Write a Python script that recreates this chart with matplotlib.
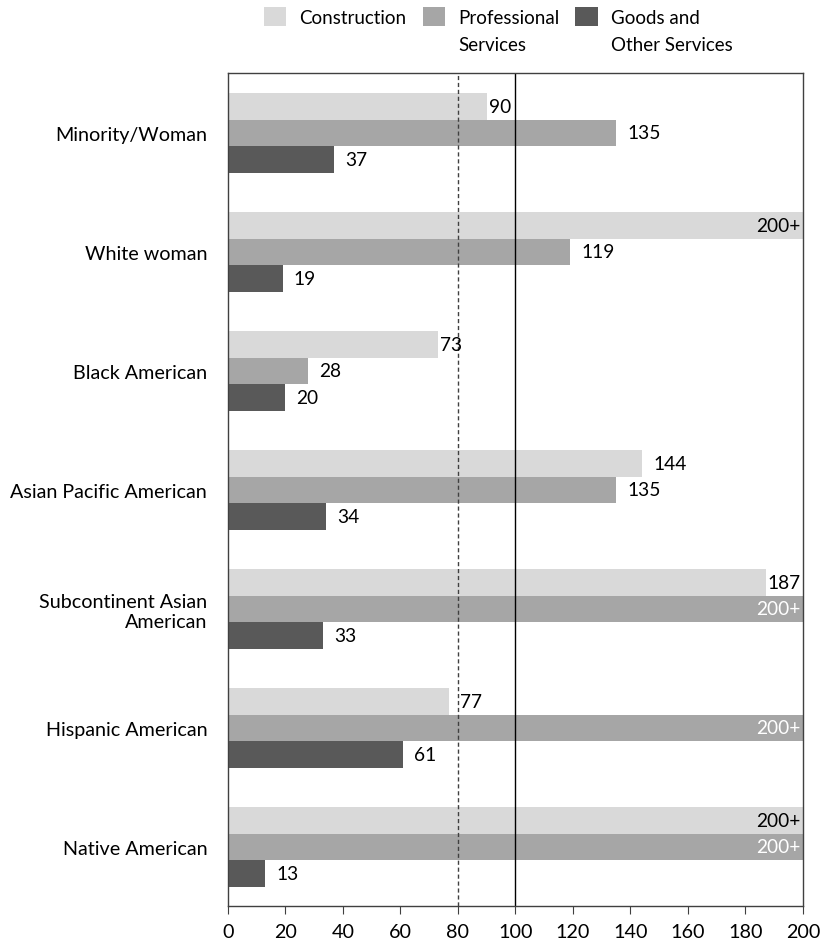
import matplotlib
matplotlib.use("Agg")
import matplotlib.pyplot as plt
import numpy as np
from matplotlib.patches import Patch

plt.rcParams['font.family'] = ['Lato', 'DejaVu Sans']

categories = ["Minority/Woman", "White woman", "Black American", "Asian Pacific American",
              "Subcontinent Asian\nAmerican", "Hispanic American", "Native American"]
series_first = ["Construction", "Professional", "Goods and"]
series_second = ["", "Services", "Other Services"]
construction = [90, "200+", 73, 144, 187, 77, "200+"]
professional = [135, 119, 28, 135, "200+", "200+", "200+"]
goods = [37, 19, 20, 34, 33, 61, 13]
colors = ["#d9d9d9", "#a6a6a6", "#595959"]
cap = 200
xticks = list(range(0, 201, 20))

fig = plt.figure(figsize=(8.29, 9.45), dpi=100)
ax = fig.add_axes([0.275, 0.0397, 0.6936, 0.8815])

n = len(categories)
centers = np.arange(n)
bh = 0.222
series = [construction, professional, goods]
for si, (vals, col) in enumerate(zip(series, colors)):
    ys = centers + (si - 1) * bh
    for y, v in zip(ys, vals):
        capped = isinstance(v, str)
        w = cap if capped else v
        ax.barh(y, w, height=bh, color=col, edgecolor='none')
        if capped:
            ax.annotate(v, (w, y), xytext=(-2, 0), textcoords='offset points',
                        ha='right', va='center', fontsize=13.8,
                        color='black' if si == 0 else 'white')
        else:
            off = 1.5 if (si == 0 and v in (90, 73, 187)) else 8
            ax.annotate(str(v), (w, y), xytext=(off, 0), textcoords='offset points',
                        ha='left', va='center', fontsize=13.8, color='black')

ax.axvline(80, color='#404040', linestyle=(0, (3, 2)), linewidth=1)
ax.axvline(100, color='black', linewidth=1)

ax.set_xlim(0, 200)
ax.set_ylim(n - 0.5, -0.5)
ax.set_yticks(centers)
ax.set_yticklabels(categories, fontsize=14.2)
ax.tick_params(axis='y', length=0, pad=15)
ax.set_xticks(xticks)
ax.set_xticklabels([str(t) for t in xticks], fontsize=14.2)
ax.tick_params(axis='x', length=6, direction='out', color='#404040', pad=6)
for s in ax.spines.values():
    s.set_color('#404040')
    s.set_linewidth(1)

handles = [Patch(facecolor=c, edgecolor='none') for c in colors]
leg = fig.legend(handles, series_first, loc='upper left', bbox_to_anchor=(0.298, 1.0095),
                 ncol=3, frameon=False, fontsize=13.5, handlelength=1.2, handleheight=1.2,
                 columnspacing=0.85, handletextpad=0.7)

fig.canvas.draw()
inv = fig.transFigure.inverted()
for txt, second in zip(leg.get_texts(), series_second):
    if second:
        bb = txt.get_window_extent()
        x0, y0 = inv.transform((bb.x0, bb.y0))
        fig.text(x0, y0 - 0.011, second, fontsize=13.5, ha='left', va='top')

fig.savefig("out.png", dpi=100)
